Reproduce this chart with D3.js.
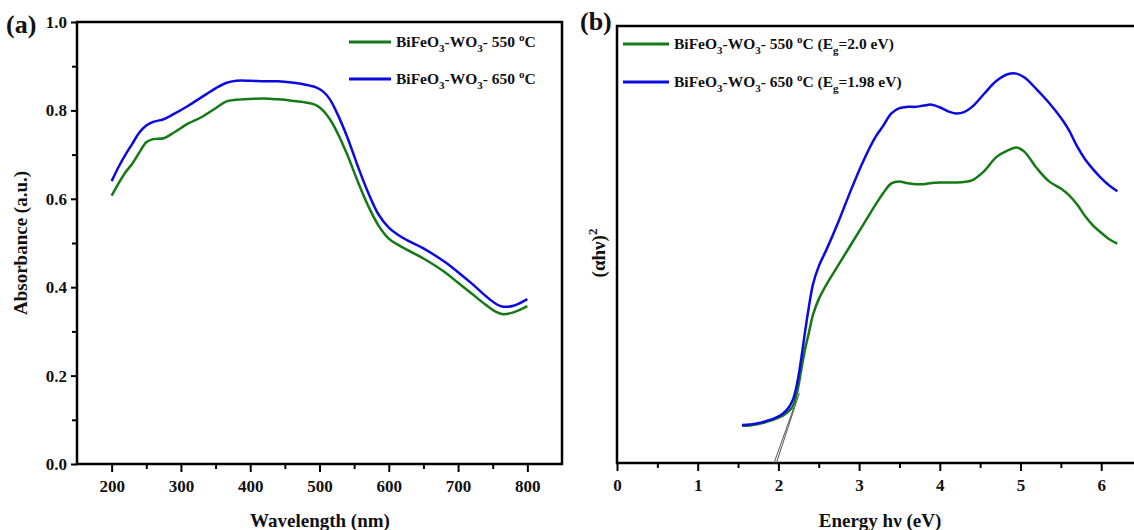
<!DOCTYPE html>
<html>
<head>
<meta charset="utf-8">
<script src="https://cdn.jsdelivr.net/npm/d3@7"></script>
<style>
  body { margin: 0; background: #fff; }
  svg text { font-family: "Liberation Serif", "Times New Roman", serif; font-weight: bold; fill: #111; }
</style>
</head>
<body>
<div id="chart"></div>
<script>
// Panel (a): absorbance vs wavelength
const wavelength = [200, 210, 220, 230, 240, 250, 260, 275, 290, 310, 330, 350, 365, 380, 400, 420, 440, 460, 480, 495,
    505, 515, 525, 540, 555, 570, 585, 600, 620, 650, 680, 700, 720, 740, 755, 765, 780, 800];
const abs550 = [0.607, 0.635, 0.66, 0.68, 0.705, 0.728, 0.735, 0.737, 0.75, 0.77, 0.785, 0.805, 0.82, 0.824, 0.826, 0.827, 0.825, 0.822, 0.818, 0.812,
    0.80, 0.78, 0.752, 0.70, 0.64, 0.585, 0.54, 0.51, 0.49, 0.465, 0.435, 0.41, 0.385, 0.36, 0.344, 0.339, 0.343, 0.357];
const abs650 = [0.64, 0.672, 0.70, 0.725, 0.75, 0.766, 0.774, 0.78, 0.792, 0.81, 0.83, 0.85, 0.862, 0.867, 0.867, 0.866, 0.866, 0.863, 0.858, 0.852,
    0.843, 0.825, 0.795, 0.74, 0.675, 0.615, 0.565, 0.535, 0.512, 0.488, 0.458, 0.434, 0.408, 0.38, 0.362, 0.356, 0.358, 0.373];
const xTicksA = [200, 300, 400, 500, 600, 700, 800];
const yTicksA = [0.0, 0.2, 0.4, 0.6, 0.8, 1.0];

// Panel (b): Tauc plot
const energy = [1.55, 1.65, 1.75, 1.85, 1.95, 2.05, 2.12, 2.18, 2.23, 2.28, 2.33, 2.38, 2.43, 2.5, 2.6, 2.75, 2.9, 3.05, 3.2, 3.3,
    3.4, 3.5, 3.6, 3.7, 3.8, 3.9, 4.0, 4.1, 4.2, 4.3, 4.4, 4.55, 4.7, 4.85, 4.95, 5.05, 5.2, 5.35, 5.5, 5.6,
    5.7, 5.8, 5.9, 6.0, 6.1, 6.2];
const tauc550 = [0.085, 0.086, 0.089, 0.094, 0.100, 0.108, 0.117, 0.13, 0.16, 0.21, 0.26, 0.30, 0.34, 0.375, 0.41, 0.455, 0.50, 0.545, 0.59, 0.618,
    0.64, 0.644, 0.64, 0.638, 0.638, 0.641, 0.642, 0.642, 0.642, 0.643, 0.647, 0.668, 0.70, 0.716, 0.722, 0.712, 0.675, 0.645, 0.628, 0.613,
    0.592, 0.565, 0.543, 0.527, 0.512, 0.502];
const tauc650 = [0.087, 0.088, 0.091, 0.096, 0.102, 0.112, 0.125, 0.145, 0.18, 0.235, 0.30, 0.36, 0.41, 0.45, 0.49, 0.555, 0.625, 0.69, 0.745, 0.772,
    0.80, 0.812, 0.815, 0.815, 0.818, 0.82, 0.814, 0.805, 0.80, 0.803, 0.815, 0.845, 0.874, 0.89, 0.891, 0.882, 0.855, 0.825, 0.79, 0.762,
    0.725, 0.695, 0.672, 0.652, 0.635, 0.622];
// extrapolated band-gap tangents: [E, value] end points
const tangent550 = [[1.975, 0], [2.26, 0.16]];
const tangent650 = [[1.946, 0], [2.19, 0.126]];
const xTicksB = [0, 1, 2, 3, 4, 5, 6];

const green = "#157a15";
const blue = "#0b0be0";

const svg = d3.select("#chart")
    .append("svg")
    .attr("width", 1134)
    .attr("height", 530);

// legend label with sub/superscripts
function legendText(g, x, y, temp, extra) {
    const t = g.append("text").attr("x", x).attr("y", y).style("font-size", "15.5px");
    t.append("tspan").text("BiFeO");
    t.append("tspan").attr("dy", 5).style("font-size", "11px").text("3");
    t.append("tspan").attr("dy", -5).text("-WO");
    t.append("tspan").attr("dy", 5).style("font-size", "11px").text("3");
    t.append("tspan").attr("dy", -5).text("- " + temp + " ");
    t.append("tspan").attr("dy", -6).style("font-size", "11px").text("o");
    t.append("tspan").attr("dy", 6).text("C");
    if (extra) {
        t.append("tspan").text(" (E");
        t.append("tspan").attr("dy", 5).style("font-size", "11px").text("g");
        t.append("tspan").attr("dy", -5).text("=" + extra + " eV)");
    }
}

// ---------- panel (a) ----------
const xA = d3.scaleLinear().domain([150, 850]).range([77, 562]);
const yA = d3.scaleLinear().domain([0, 1]).range([464, 22]);

const gA = svg.append("g");

// minor ticks
gA.append("g")
    .attr("transform", "translate(0,464)")
    .call(d3.axisBottom(xA).tickValues([250, 350, 450, 550, 650, 750]).tickSize(5).tickFormat("").tickSizeOuter(0))
    .call(g => g.select(".domain").remove());
gA.append("g")
    .attr("transform", "translate(77,0)")
    .call(d3.axisLeft(yA).tickValues([0.1, 0.3, 0.5, 0.7, 0.9]).tickSize(5).tickFormat("").tickSizeOuter(0))
    .call(g => g.select(".domain").remove());

// major ticks
gA.append("g")
    .attr("transform", "translate(0,464)")
    .call(d3.axisBottom(xA).tickValues(xTicksA).tickFormat(d3.format("d")).tickSize(8).tickPadding(8).tickSizeOuter(0))
    .call(g => g.select(".domain").remove());
gA.append("g")
    .attr("transform", "translate(77,0)")
    .call(d3.axisLeft(yA).tickValues(yTicksA).tickFormat(d3.format(".1f")).tickSize(6).tickPadding(4).tickSizeOuter(0))
    .call(g => g.select(".domain").remove());

gA.append("rect")
    .attr("x", 77).attr("y", 22)
    .attr("width", 562 - 77).attr("height", 464 - 22)
    .attr("fill", "none").attr("stroke", "#000").attr("stroke-width", 2.5);

const lineA = d3.line()
    .x((d, i) => xA(wavelength[i]))
    .y(d => yA(d))
    .curve(d3.curveCatmullRom);

gA.append("path").datum(abs550).attr("d", lineA)
    .attr("fill", "none").attr("stroke", green).attr("stroke-width", 2.5);
gA.append("path").datum(abs650).attr("d", lineA)
    .attr("fill", "none").attr("stroke", blue).attr("stroke-width", 2.5);

// legend (a)
[[green, 42, "550"], [blue, 79, "650"]].forEach(([c, y, t]) => {
    gA.append("line").attr("x1", 349).attr("x2", 391).attr("y1", y).attr("y2", y)
        .attr("stroke", c).attr("stroke-width", 3);
    legendText(gA, 396, y + 5, t, null);
});

gA.append("text").attr("x", 6).attr("y", 33).style("font-size", "26px").text("(a)");
gA.append("text")
    .attr("transform", "translate(27,243) rotate(-90)")
    .attr("text-anchor", "middle")
    .style("font-size", "19px")
    .text("Absorbance (a.u.)");
gA.append("text")
    .attr("x", 320).attr("y", 527)
    .attr("text-anchor", "middle")
    .style("font-size", "19px")
    .text("Wavelength (nm)");

// ---------- panel (b) ----------
const xB = d3.scaleLinear().domain([0, 6.5]).range([617, 617 + 6.5 * 80.7]);
const yB = d3.scaleLinear().domain([0, 1]).range([463, 26]);

const gB = svg.append("g");

gB.append("g")
    .attr("transform", "translate(0,463)")
    .call(d3.axisBottom(xB).tickValues([0.5, 1.5, 2.5, 3.5, 4.5, 5.5]).tickSize(5).tickFormat("").tickSizeOuter(0))
    .call(g => g.select(".domain").remove());
gB.append("g")
    .attr("transform", "translate(0,463)")
    .call(d3.axisBottom(xB).tickValues(xTicksB).tickFormat(d3.format("d")).tickSize(8).tickPadding(8).tickSizeOuter(0))
    .call(g => g.select(".domain").remove());

gB.append("path")
    .attr("d", `M1140,26 H617 V463 H1140`)
    .attr("fill", "none").attr("stroke", "#000").attr("stroke-width", 2.5);

const lineB = d3.line()
    .x((d, i) => xB(energy[i]))
    .y(d => yB(d))
    .curve(d3.curveCatmullRom);

gB.append("path").datum(tauc550).attr("d", lineB)
    .attr("fill", "none").attr("stroke", green).attr("stroke-width", 2.5);
gB.append("path").datum(tauc650).attr("d", lineB)
    .attr("fill", "none").attr("stroke", blue).attr("stroke-width", 2.5);

const tanLine = d3.line().x(d => xB(d[0])).y(d => yB(d[1]));
[tangent550, tangent650].forEach(t => {
    gB.append("path").datum(t).attr("d", tanLine)
        .attr("fill", "none").attr("stroke", "#555").attr("stroke-width", 1);
});

// legend (b)
[[green, 44, "550", "2.0"], [blue, 82, "650", "1.98"]].forEach(([c, y, t, e]) => {
    gB.append("line").attr("x1", 623).attr("x2", 669).attr("y1", y).attr("y2", y)
        .attr("stroke", c).attr("stroke-width", 3);
    legendText(gB, 674, y + 5, t, e);
});

gB.append("text").attr("x", 580).attr("y", 30).style("font-size", "26px").text("(b)");
const yt = gB.append("text")
    .attr("transform", "translate(605,253) rotate(-90)")
    .attr("text-anchor", "middle")
    .style("font-size", "19px");
yt.append("tspan").text("(\u03b1h\u03bd)");
yt.append("tspan").attr("dy", -8).style("font-size", "13px").text("2");
gB.append("text")
    .attr("x", 880).attr("y", 527)
    .attr("text-anchor", "middle")
    .style("font-size", "19px")
    .text("Energy h\u03bd (eV)");

svg.selectAll(".tick text").style("font-size", "17px");
svg.selectAll(".tick line").attr("stroke", "#000").attr("stroke-width", 2);
</script>
</body>
</html>
